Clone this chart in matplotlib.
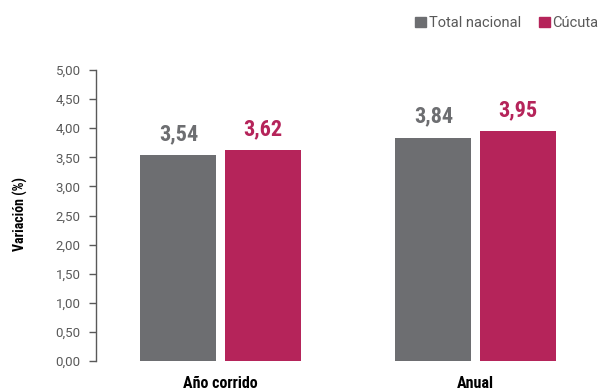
import matplotlib
matplotlib.use('Agg')
import matplotlib.pyplot as plt
from matplotlib import font_manager
import numpy as np
from matplotlib.patches import Patch

categories = ['Año corrido', 'Anual']
series_names = ['Total nacional', 'Cúcuta']
total_nacional = [3.54, 3.84]
cucuta = [3.62, 3.95]
yticks = [0.0, 0.5, 1.0, 1.5, 2.0, 2.5, 3.0, 3.5, 4.0, 4.5, 5.0]

gray = '#6d6e71'
crimson = '#b5245a'
text_gray = '#595959'

# pick a condensed font if one is installed
names = {f.name for f in font_manager.fontManager.ttflist}
cands = ['Liberation Sans Narrow', 'DejaVu Sans Condensed', 'Roboto Condensed',
         'Open Sans Condensed', 'Noto Sans Condensed']
narrow_name = next((n for n in cands if n in names), None)
narrow = [narrow_name, 'DejaVu Sans'] if narrow_name else ['DejaVu Sans']
plain = ['Roboto', 'DejaVu Sans']

fig = plt.figure(figsize=(6.0, 3.9), dpi=100)
ax = fig.add_axes([96 / 600, 1 - 361 / 390, 504 / 600, 291 / 390])

x = np.arange(len(categories))
w = 0.298
off = 0.166
b1 = ax.bar(x - off, total_nacional, w, color=gray, label=series_names[0])
b2 = ax.bar(x + off, cucuta, w, color=crimson, label=series_names[1])

for bars, vals, c in [(b1, total_nacional, gray), (b2, cucuta, crimson)]:
    for r, v in zip(bars, vals):
        ax.annotate(f'{v:.2f}'.replace('.', ','), (r.get_x() + r.get_width() / 2, v),
                    xytext=(0, 7), textcoords='offset points', ha='center', va='bottom',
                    color=c, fontsize=16, fontweight='bold', family=narrow)

ax.set_xlim(-0.489, 1.487)
ax.set_ylim(0, 5)
ax.set_yticks(yticks)
ax.set_yticklabels([f'{t:.2f}'.replace('.', ',') for t in yticks],
                   family=plain, fontsize=9.5, color=text_gray)
ax.tick_params(axis='y', length=5, width=1, color=text_gray, pad=6)
ax.set_xticks(x)
ax.set_xticklabels(categories, family=narrow, fontweight='bold', fontsize=11.5, color='black')
ax.tick_params(axis='x', length=0, pad=11)

for s in ['top', 'right', 'bottom']:
    ax.spines[s].set_visible(False)
ax.spines['left'].set_color(text_gray)
ax.spines['left'].set_linewidth(1)

fig.text(20 / 600, 1 - 214 / 390, 'Variación (%)', rotation=90, ha='center', va='center',
         family=narrow, fontweight='bold', fontsize=10, color='black')

handles = [Patch(color=gray, label=series_names[0]), Patch(color=crimson, label=series_names[1])]
fig.legend(handles=handles, loc='center right', bbox_to_anchor=(1.0, 1 - 23 / 390), ncol=2,
           frameon=False, handlelength=0.75, handleheight=0.75, handletextpad=0.2,
           columnspacing=1.2, borderaxespad=0, borderpad=0.1,
           prop={'family': plain, 'size': 10.5}, labelcolor=text_gray)

fig.savefig('out.png', dpi=100)
